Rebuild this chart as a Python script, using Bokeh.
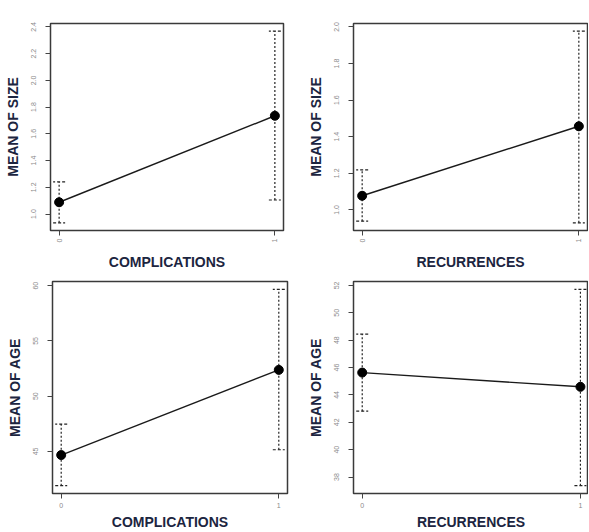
import math
from bokeh.plotting import figure
from bokeh.layouts import column, row
from bokeh.models import (FixedTicker, PrintfTickFormatter, Range1d, ColumnDataSource,
                          Whisker, TeeHead)
from bokeh.embed import file_html
from bokeh.resources import INLINE

# ---- data ----
groups = [0, 1]

size_comp_mean = [1.088, 1.735]
size_comp_lower = [0.934, 1.105]
size_comp_upper = [1.240, 2.368]

size_rec_mean = [1.077, 1.457]
size_rec_lower = [0.938, 0.929]
size_rec_upper = [1.219, 1.977]

age_comp_mean = [44.67, 52.38]
age_comp_lower = [41.90, 45.15]
age_comp_upper = [47.47, 59.67]

age_rec_mean = [45.63, 44.59]
age_rec_lower = [42.81, 37.37]
age_rec_upper = [48.44, 51.71]

size_comp_ticks = [1.0, 1.2, 1.4, 1.6, 1.8, 2.0, 2.2, 2.4]
size_rec_ticks = [1.0, 1.2, 1.4, 1.6, 1.8, 2.0]
age_comp_ticks = [45, 50, 55, 60]
age_rec_ticks = [38, 40, 42, 44, 46, 48, 50, 52]

x_tick_values = [0, 1]

LABEL_FONT = "Liberation Sans"
LABEL_COLOR = "#1c2540"
TICK_COLOR = "#8a8a8a"


def panel(mean, lower, upper, yticks, yfmt, xlabel, ylabel, w, h,
          bl, br, bt, bb, x_end, rot_x):
    lo = min(lower)
    hi = max(upper)
    pad = 0.04 * (hi - lo)
    p = figure(width=w, height=h, output_backend="svg", toolbar_location=None,
               x_range=Range1d(-0.04, x_end), y_range=Range1d(lo - pad, hi + pad),
               min_border_left=bl, min_border_right=br, min_border_top=bt,
               min_border_bottom=bb)
    p.grid.visible = False
    p.outline_line_color = "#3a3a3a"
    p.outline_line_width = 1.5
    p.background_fill_color = "white"
    p.border_fill_color = "white"

    src = ColumnDataSource(dict(x=groups, m=mean, lo=lower, up=upper))
    wh = Whisker(source=src, base="x", lower="lo", upper="up",
                 line_color="#222222", line_width=1.2, line_dash="2 2",
                 upper_head=TeeHead(size=12, line_color="#222222", line_width=1.2, line_dash="3 2"),
                 lower_head=TeeHead(size=12, line_color="#222222", line_width=1.2, line_dash="3 2"))
    p.add_layout(wh)
    p.line("x", "m", source=src, line_color="#1a1a1a", line_width=1.4)
    p.scatter("x", "m", source=src, size=9, fill_color="black", line_color="black")

    p.xaxis.ticker = FixedTicker(ticks=x_tick_values)
    p.yaxis.ticker = FixedTicker(ticks=yticks)
    p.yaxis.formatter = PrintfTickFormatter(format=yfmt)
    for ax in (p.xaxis[0], p.yaxis[0]):
        ax.axis_line_color = None
        ax.major_tick_line_color = "#444444"
        ax.major_tick_out = 5
        ax.major_tick_in = 0
        ax.minor_tick_line_color = None
        ax.major_label_text_font_size = "7px"
        ax.major_label_text_line_height = 1.0
        ax.major_label_text_color = TICK_COLOR
        ax.major_label_text_font = "Liberation Sans"
        ax.axis_label_text_font = LABEL_FONT
        ax.axis_label_text_font_style = "bold"
        ax.axis_label_text_font_size = "14px"
        ax.axis_label_text_line_height = 1.0
        ax.axis_label_text_color = LABEL_COLOR
    p.xaxis.axis_label = xlabel
    p.yaxis.axis_label = ylabel
    p.yaxis.major_label_orientation = "parallel"
    p.yaxis.major_label_standoff = 9
    p.yaxis.axis_label_standoff = 8
    if rot_x:
        p.xaxis.major_label_orientation = math.pi / 2
        p.xaxis.major_label_standoff = 3
        p.xaxis.axis_label_standoff = 9
    else:
        p.xaxis.major_label_standoff = 4
        p.xaxis.axis_label_standoff = 3
    return p


p1 = panel(size_comp_mean, size_comp_lower, size_comp_upper, size_comp_ticks, "%.1f",
           "COMPLICATIONS", "MEAN OF SIZE", 290, 273, 50, 7, 23, 36, 1.04, True)
p2 = panel(size_rec_mean, size_rec_lower, size_rec_upper, size_rec_ticks, "%.1f",
           "RECURRENCES", "MEAN OF SIZE", 298, 273, 63, 1, 16, 36, 1.04, True)
p3 = panel(age_comp_mean, age_comp_lower, age_comp_upper, age_comp_ticks, "%d",
           "COMPLICATIONS", "MEAN OF AGE", 290, 259, 52, 3, 7, 30, 1.04, False)
p4 = panel(age_rec_mean, age_rec_lower, age_rec_upper, age_rec_ticks, "%d",
           "RECURRENCES", "MEAN OF AGE", 298, 259, 63, 0, 8, 30, 1.037, False)

layout = column(row(p1, p2), row(p3, p4))
open("out.html", "w").write(file_html(layout, INLINE))
